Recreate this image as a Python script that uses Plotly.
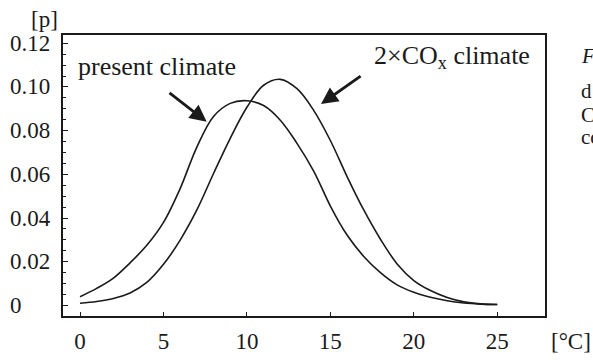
import plotly.graph_objects as go

# ---- data ----
temp_c = list(range(0, 26))
present_climate = [0.0040, 0.0078, 0.0125, 0.0195, 0.0275, 0.0380, 0.0535, 0.0725,
                   0.0865, 0.0925, 0.0937, 0.0915, 0.0848, 0.0742, 0.0615, 0.0455,
                   0.0322, 0.0224, 0.0150, 0.0094, 0.0060, 0.0037, 0.0021, 0.0011,
                   0.0006, 0.0004]
co2x_climate = [0.0010, 0.0018, 0.0032, 0.0057, 0.0105, 0.0188, 0.0299, 0.0437,
                0.0604, 0.0765, 0.0907, 0.1008, 0.1035, 0.0992, 0.0893, 0.0755,
                0.0590, 0.0437, 0.0303, 0.0190, 0.0114, 0.0068, 0.0036, 0.0016,
                0.0007, 0.0004]

x_ticks = [0, 5, 10, 15, 20, 25]
y_tick_vals = [0, 0.02, 0.04, 0.06, 0.08, 0.10, 0.12]
y_tick_text = ["0", "0.02", "0.04", "0.06", "0.08", "0.10", "0.12"]

SERIF = "Liberation Serif, Times New Roman, serif"
INK = "#1a1a1a"

fig = go.Figure()
fig.add_trace(go.Scatter(x=temp_c, y=present_climate, mode="lines",
                         line=dict(color=INK, width=1.6, shape="spline", smoothing=1.0),
                         name="present climate", showlegend=False))
fig.add_trace(go.Scatter(x=temp_c, y=co2x_climate, mode="lines",
                         line=dict(color=INK, width=1.6, shape="spline", smoothing=1.0),
                         name="2xCOx climate", showlegend=False))

annotations = []
# y tick labels, left aligned as in the reference
for v, t in zip(y_tick_vals, y_tick_text):
    annotations.append(dict(x=-0.114, xref="paper", y=v, yref="y", text=t,
                            showarrow=False, xanchor="left", yanchor="middle",
                            font=dict(family=SERIF, size=23, color=INK)))
# axis unit labels
annotations.append(dict(x=-0.0394, xref="paper", y=1.0534, yref="paper", text="[p]",
                        showarrow=False, xanchor="center", yanchor="middle",
                        font=dict(family=SERIF, size=23, color=INK)))
annotations.append(dict(x=1.054, xref="paper", y=-0.0925, yref="paper", text="[°C]",
                        showarrow=False, xanchor="center", yanchor="middle",
                        font=dict(family=SERIF, size=23, color=INK)))
# series labels
annotations.append(dict(x=4.6, xref="x", y=0.1096, yref="y", text="present climate",
                        showarrow=False, xanchor="center", yanchor="middle",
                        font=dict(family=SERIF, size=26, color=INK)))
annotations.append(dict(x=22.3, xref="x", y=0.1137, yref="y",
                        text="2×CO<sub>x</sub> climate",
                        showarrow=False, xanchor="center", yanchor="middle",
                        font=dict(family=SERIF, size=26, color=INK)))
# arrows
annotations.append(dict(x=7.59, y=0.0841, xref="x", yref="y", ax=5.27, ay=0.0978,
                        axref="x", ayref="y", text="", showarrow=True, arrowhead=2,
                        arrowsize=1.2, arrowwidth=2.8, arrowcolor=INK, standoff=0))
annotations.append(dict(x=14.44, y=0.0922, xref="x", yref="y", ax=16.9, ay=0.1055,
                        axref="x", ayref="y", text="", showarrow=True, arrowhead=2,
                        arrowsize=1.2, arrowwidth=2.8, arrowcolor=INK, standoff=0))
# cut-off caption fragments on the right edge
for txt, py in [("<i>F</i>", 0.925), ("d", 0.799), ("C", 0.715), ("co", 0.638)]:
    annotations.append(dict(x=1.0705, xref="paper", y=py, yref="paper", text=txt,
                            showarrow=False, xanchor="left", yanchor="middle",
                            font=dict(family=SERIF, size=21, color=INK)))

fig.update_layout(
    width=593, height=360,
    margin=dict(l=63, r=48, t=35, b=44, autoexpand=False),
    paper_bgcolor="white", plot_bgcolor="white",
    annotations=annotations,
    xaxis=dict(range=[-1.02, 27.86], tickvals=x_ticks, ticks="inside", ticklen=4,
               tickwidth=1, tickcolor=INK, showgrid=False, zeroline=False,
               showline=True, linecolor=INK, linewidth=1.6, mirror=True,
               automargin=False,
               tickfont=dict(family=SERIF, size=23, color=INK), ticklabelstandoff=4),
    yaxis=dict(range=[-0.00485, 0.1238], tickvals=y_tick_vals, ticks="inside",
               ticklen=5, tickwidth=1, tickcolor=INK, showticklabels=False,
               showgrid=False, zeroline=False, showline=True, linecolor=INK,
               linewidth=1.6, mirror=True, automargin=False,
               minor=dict(dtick=0.005, tick0=0, ticks="inside", ticklen=3,
                          tickwidth=1, tickcolor=INK, showgrid=False)),
)

fig.write_html("out.html")
